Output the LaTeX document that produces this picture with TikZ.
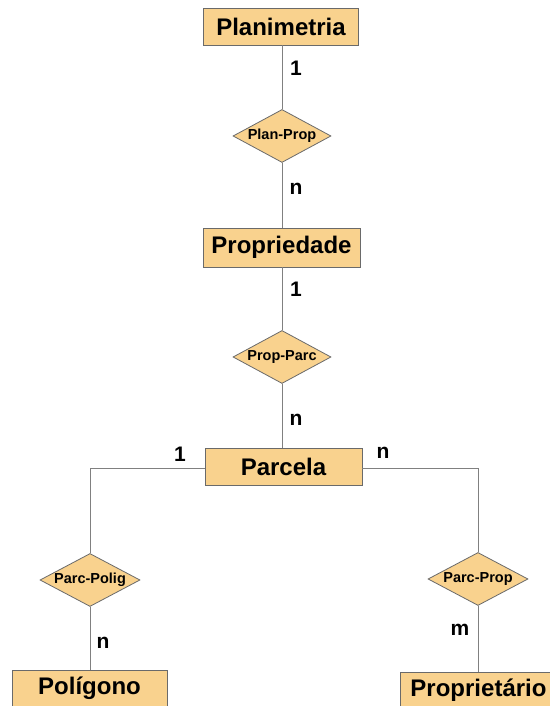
\documentclass[tikz,border=0pt]{standalone}
\usepackage{fontspec}
\setmainfont{Liberation Sans}
\usetikzlibrary{shapes.geometric}
\definecolor{erfill}{HTML}{F9D28E}
\definecolor{erline}{HTML}{6A6A6A}
\tikzset{
  entity/.style={draw=erline, line width=0.9pt, fill=erfill, minimum width=155pt, minimum height=37pt, inner sep=0pt, font=\bfseries\fontsize{24}{27}\selectfont},
  rel/.style={diamond, draw=erline, line width=0.8pt, fill=erfill, minimum width=98pt, minimum height=53pt, inner sep=0pt, aspect=1.85, font=\bfseries\fontsize{14.5}{16}\selectfont},
  conn/.style={draw=erline!85, line width=0.9pt},
  card/.style={font=\bfseries\fontsize{21}{24}\selectfont, inner sep=0pt}
}
\begin{document}
\begin{tikzpicture}[x=1pt,y=1pt]
\useasboundingbox (0,0) rectangle (549,706);
\fill[white] (0,0) rectangle (549,706);
\node[entity] (plan) at (281,679.5) {Planimetria};
\node[rel] (planprop) at (282,570) {Plan-Prop};
\node[entity, minimum width=157pt, minimum height=39pt] (prop) at (281.5,458.5) {Propriedade};
\node[rel] (propparc) at (282,349) {Prop-Parc};
\node[entity, minimum width=157pt] (parc) at (283.5,239.5) {Parcela};
\node[rel, minimum width=100pt] (parcpolig) at (90,126) {Parc-Polig};
\node[entity] (polig) at (89.5,17.5) {Polígono};
\node[rel, minimum width=100pt] (parcprop) at (478,127) {Parc-Prop};
\node[entity, minimum width=157pt] (propr) at (478.5,15.5) {Proprietário};

\coordinate (lc) at (parcpolig.north |- 0,238);
\coordinate (rc) at (parcprop.north |- 0,238);
\draw[conn] (planprop.north) -- (planprop.north |- plan.south);
\draw[conn] (planprop.south) -- (planprop.south |- prop.north);
\draw[conn] (propparc.north) -- (propparc.north |- prop.south);
\draw[conn] (propparc.south) -- (propparc.south |- parc.north);
\draw[conn] (parc.west |- lc) -- (lc) -- (parcpolig.north);
\draw[conn] (parc.east |- rc) -- (rc) -- (parcprop.north);
\draw[conn] (parcpolig.south) -- (parcpolig.south |- polig.north);
\draw[conn] (parcprop.south) -- (parcprop.south |- propr.north);

\node[card] (c1) at (296,638) {1};
\node[card] (c2) at (296,517) {n};
\node[card] (c3) at (296,417) {1};
\node[card] (c4) at (296,286) {n};
\node[card] (c5) at (180,252) {1};
\node[card] (c6) at (383,253) {n};
\node[card] (c7) at (103,63) {n};
\node[card] (c8) at (460,76) {m};
\end{tikzpicture}
\end{document}
